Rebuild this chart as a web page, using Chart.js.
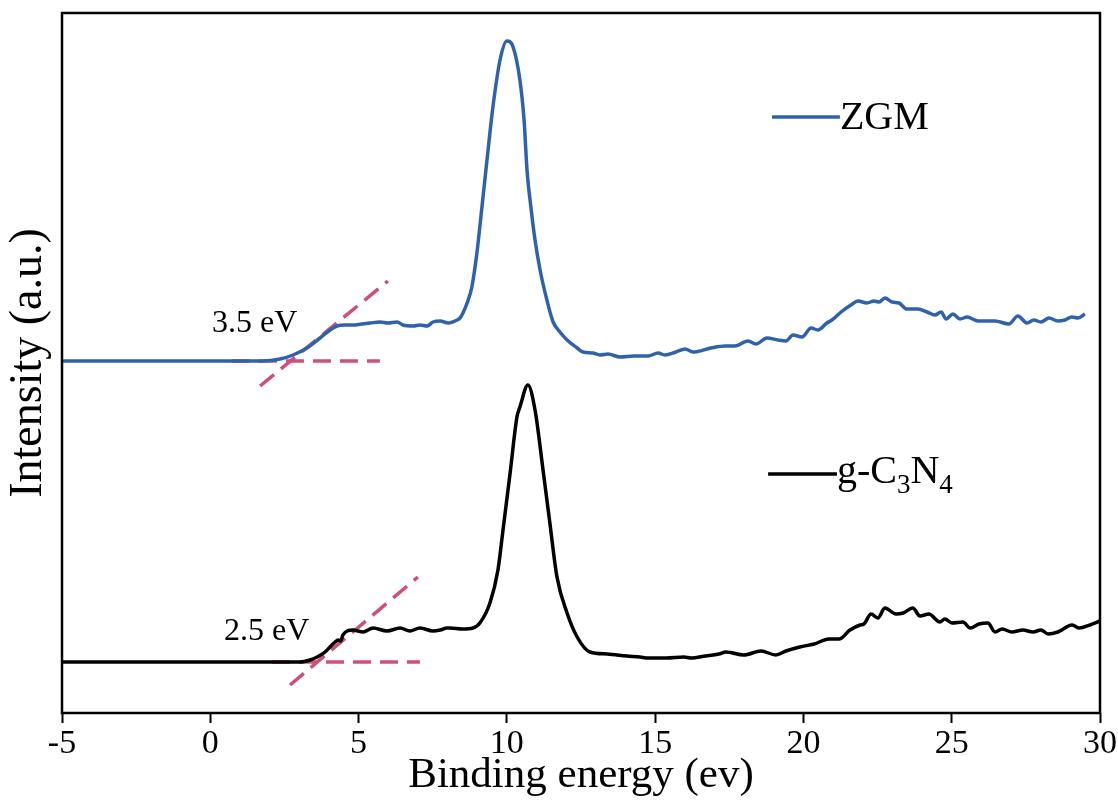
<!DOCTYPE html>
<html>
<head>
<meta charset="utf-8">
<script src="https://cdn.jsdelivr.net/npm/chart.js@4.4.0/dist/chart.umd.min.js"></script>
<style>
  html, body { margin: 0; padding: 0; background: #fff; }
</style>
</head>
<body>
<canvas id="chart" width="1118" height="809"></canvas>
<script>
'use strict';

// ── DATA ─────────────────────────────────────────────────────────────────────
const xTicks = [-5, 0, 5, 10, 15, 20, 25, 30];

// ZGM spectrum (binding energy, intensity a.u.)
const zgmX = [
  -5.0, -4.5, -4.0, -3.5, -3.0, -2.5, -2.0, -1.5, -1.0, -0.5, 0.0, 0.5, 1.0, 1.5, 1.78,
  2.35, 2.79, 3.26, 3.70, 4.04, 4.27, 4.55, 4.81, 5.10, 5.39, 5.72, 6.00, 6.30, 6.50, 6.84,
  7.07, 7.31, 7.51, 7.75, 8.02, 8.32, 8.42, 8.52, 8.66, 8.82, 8.99, 9.16, 9.33, 9.53, 9.77,
  10.00, 10.21, 10.44, 10.58, 10.68, 10.81, 10.95, 11.12, 11.35, 11.56, 11.79, 12.03, 12.37, 12.57, 12.90,
  13.14, 13.41, 13.81, 14.29, 14.76, 15.10, 15.33, 15.70, 16.01, 16.28, 16.88, 17.36, 17.69, 18.13, 18.40,
  18.77, 19.14, 19.41, 19.65, 19.95, 20.26, 20.49, 20.79, 20.96, 21.27, 21.60, 21.84, 22.14, 22.38, 22.55,
  22.75, 22.99, 23.22, 23.49, 23.86, 24.17, 24.44, 24.64, 24.81, 25.04, 25.28, 25.52, 25.89, 26.46, 26.93,
  27.23, 27.54, 27.77, 28.01, 28.28, 28.58, 28.82, 29.05, 29.26, 29.49
];
const zgmY = [
  352, 352, 352, 352, 352, 352, 352, 352, 352, 352, 352, 352, 352, 352, 352,
  354, 358, 365, 375, 383, 387, 388, 388, 389, 390, 391, 390, 391, 388, 387,
  388, 387, 391, 392, 390, 393, 395, 400, 410, 426, 460, 506, 553, 606, 653,
  672, 666, 633, 593, 543, 506, 473, 443, 413, 391, 381, 373, 365, 361, 360,
  358, 359, 356, 357, 357, 360, 358, 361, 364, 361, 365, 367, 367, 372, 369,
  375, 373, 372, 378, 376, 385, 383, 390, 393, 401, 408, 412, 410, 412, 411,
  415, 411, 410, 404, 404, 401, 398, 401, 394, 399, 394, 396, 392, 392, 389,
  397, 390, 393, 391, 395, 392, 393, 396, 395, 399
];

// g-C3N4 spectrum
const gcnX = [
  -5.0, -4.5, -4.0, -3.5, -3.0, -2.5, -2.0, -1.5, -1.0, -0.5, 0.0, 0.5, 1.0, 1.5, 2.0,
  2.5, 2.79, 3.03, 3.36, 3.60, 3.87, 4.10, 4.21, 4.31, 4.40, 4.47, 4.81, 5.15, 5.49, 5.96,
  6.40, 6.73, 7.07, 7.51, 7.75, 7.98, 8.08, 8.50, 8.86, 9.09, 9.43, 9.70, 9.87, 10.11, 10.34,
  10.44, 10.71, 10.95, 11.22, 11.45, 11.69, 12.03, 12.37, 12.80, 13.38, 14.05, 14.49, 14.76, 15.37, 15.97,
  16.21, 16.70, 17.15, 17.39, 17.99, 18.57, 19.07, 19.41, 19.88, 20.36, 20.86, 21.20, 21.57, 21.91, 22.04,
  22.28, 22.51, 22.75, 23.12, 23.36, 23.69, 23.93, 24.23, 24.60, 24.77, 25.01, 25.38, 25.62, 25.92, 26.22,
  26.46, 26.70, 27.03, 27.40, 27.74, 28.01, 28.25, 28.58, 29.06, 29.29, 29.66, 30.00
];
const gcnY = [
  51, 51, 51, 51, 51, 51, 51, 51, 51, 51, 51, 51, 51, 51, 51,
  51, 51, 51, 53, 56, 61, 68, 71, 73, 72, 78, 83, 81, 85, 82,
  85, 82, 85, 82, 83, 85, 85, 84, 85, 90, 110, 143, 183, 240, 296,
  306, 328, 303, 243, 190, 136, 100, 76, 61, 59, 57, 56, 55, 55, 56,
  55, 57, 59, 61, 58, 62, 58, 62, 66, 69, 74, 74, 83, 88, 89,
  99, 95, 105, 99, 100, 105, 97, 99, 91, 94, 90, 91, 85, 89, 90,
  81, 84, 81, 83, 81, 83, 79, 81, 88, 85, 88, 92
];

// onset tangent lines [x0, x1], [y0, y1]
const zgmBaseX = [0.73, 5.72],  zgmBaseY = [352, 352];
const zgmSlopeX = [1.68, 5.99], zgmSlopeY = [327, 432];
const gcnBaseX = [2.08, 7.07],  gcnBaseY = [51, 51];
const gcnSlopeX = [2.69, 7.00], gcnSlopeY = [28, 136];

const onsetLabels = ['3.5 eV', '2.5 eV'];

// ── STYLE ────────────────────────────────────────────────────────────────────
const SERIF = '"Liberation Serif", "Times New Roman", Times, serif';
const BLUE = '#2f62ad';
const TANGENT = '#cf4f78';

const pts = (xs, ys) => xs.map((x, i) => ({ x, y: ys[i] }));

function tangent(xs, ys) {
  return {
    data: pts(xs, ys),
    borderColor: TANGENT,
    borderWidth: 3.5,
    borderDash: [18, 9],
    pointRadius: 0,
    tension: 0,
  };
}

// legend + onset labels + frame, drawn on top of the chart area
const overlayPlugin = {
  id: 'overlay',
  afterDraw(chart) {
    const { ctx, chartArea: a, scales: { x, y } } = chart;
    ctx.save();

    ctx.strokeStyle = '#000';
    ctx.lineWidth = 2.5;
    ctx.strokeRect(a.left, a.top, a.right - a.left, a.bottom - a.top);

    ctx.fillStyle = '#000';
    ctx.textBaseline = 'alphabetic';
    ctx.font = '32px ' + SERIF;
    ctx.fillText(onsetLabels[0], x.getPixelForValue(0.06), y.getPixelForValue(381));
    ctx.fillText(onsetLabels[1], x.getPixelForValue(0.46), y.getPixelForValue(73));

    // legend entries: line sample then label (with subscripts)
    const entries = [
      { color: BLUE, lx: [18.94, 21.23], ly: 596, ty: 584, parts: [['ZGM', 0]] },
      { color: '#000', lx: [18.81, 21.13], ly: 239, ty: 230,
        parts: [['g-C', 0], ['3', 1], ['N', 0], ['4', 1]] },
    ];
    entries.forEach(e => {
      const x0 = x.getPixelForValue(e.lx[0]);
      const x1 = x.getPixelForValue(e.lx[1]);
      const ly = y.getPixelForValue(e.ly);
      ctx.strokeStyle = e.color;
      ctx.lineWidth = 3.5;
      ctx.beginPath();
      ctx.moveTo(x0, ly);
      ctx.lineTo(x1, ly);
      ctx.stroke();

      let tx = x1;
      const ty = y.getPixelForValue(e.ty);
      e.parts.forEach(([txt, sub]) => {
        ctx.font = (sub ? '27px ' : '40px ') + SERIF;
        ctx.fillText(txt, tx, ty + (sub ? 10 : 0));
        tx += ctx.measureText(txt).width;
      });
    });

    ctx.restore();
  },
};

// ── CHART ────────────────────────────────────────────────────────────────────
new Chart(document.getElementById('chart'), {
  type: 'line',
  data: {
    datasets: [
      {
        label: 'ZGM',
        data: pts(zgmX, zgmY),
        borderColor: BLUE,
        borderWidth: 3.5,
        pointRadius: 0,
        cubicInterpolationMode: 'monotone',
      },
      {
        label: 'g-C3N4',
        data: pts(gcnX, gcnY),
        borderColor: '#000',
        borderWidth: 3.5,
        pointRadius: 0,
        cubicInterpolationMode: 'monotone',
      },
      tangent(zgmBaseX, zgmBaseY),
      tangent(zgmSlopeX, zgmSlopeY),
      tangent(gcnBaseX, gcnBaseY),
      tangent(gcnSlopeX, gcnSlopeY),
    ],
  },
  options: {
    responsive: false,
    animation: false,
    devicePixelRatio: 1,
    layout: { padding: { top: 13, right: 18, left: 0, bottom: 0 } },
    plugins: {
      legend: { display: false },
      tooltip: { enabled: false },
    },
    scales: {
      x: {
        type: 'linear',
        min: -5,
        max: 30,
        afterBuildTicks: s => { s.ticks = xTicks.map(v => ({ value: v })); },
        afterFit: s => { s.height = 96; },
        border: { display: false },
        grid: {
          drawOnChartArea: false,
          drawTicks: true,
          tickLength: 10,
          tickWidth: 2,
          tickColor: '#000',
        },
        ticks: {
          color: '#000',
          padding: 1,
          maxRotation: 0,
          font: { family: SERIF, size: 34 },
        },
        title: {
          display: true,
          text: 'Binding energy (ev)',
          color: '#000',
          padding: { top: 7, bottom: 7 },
          font: { family: SERIF, size: 43 },
        },
      },
      y: {
        type: 'linear',
        min: 0,
        max: 700,
        afterFit: s => { s.width = 62; },
        border: { display: false },
        grid: { display: false },
        ticks: { display: false },
        title: {
          display: true,
          text: 'Intensity (a.u.)',
          color: '#000',
          padding: { top: 1, bottom: 0 },
          font: { family: SERIF, size: 46 },
        },
      },
    },
  },
  plugins: [overlayPlugin],
});
</script>
</body>
</html>
